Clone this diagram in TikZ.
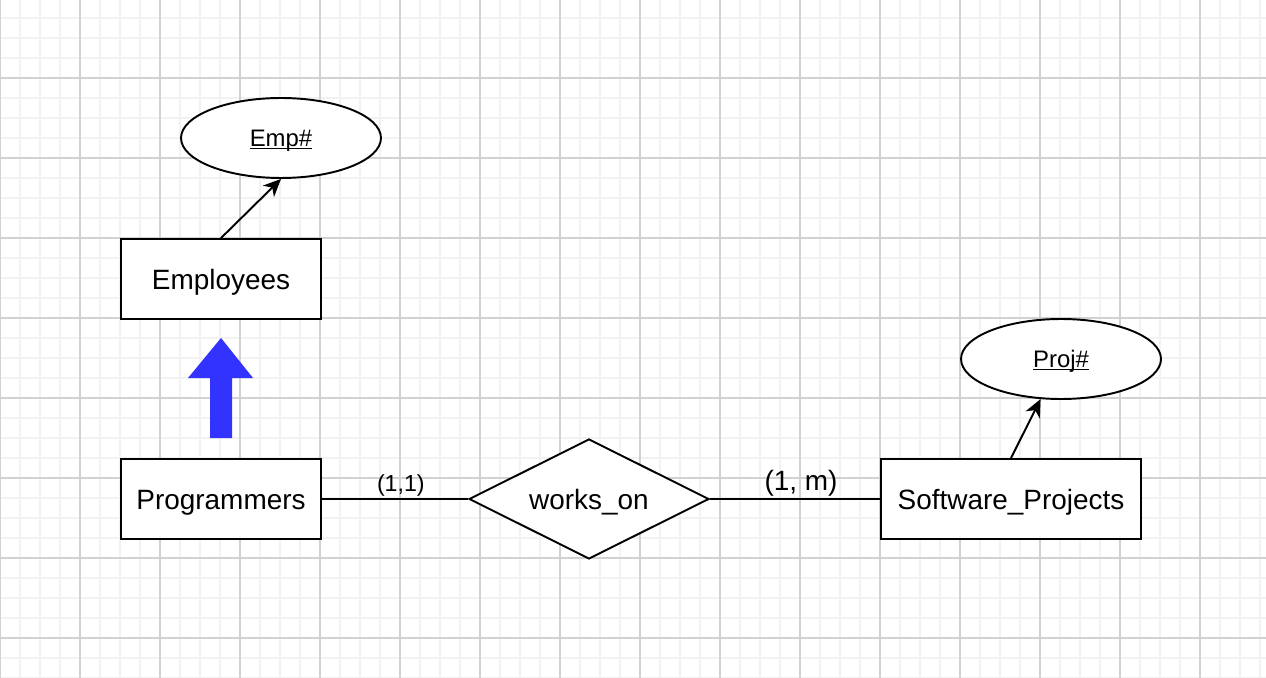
\documentclass[tikz,border=0pt]{standalone}
\usepackage{fontspec}
\setmainfont{Liberation Sans}
\usepackage{xcolor}
\usetikzlibrary{shapes.geometric, arrows.meta, positioning}
\definecolor{isablue}{RGB}{51,51,255}
\newcommand{\keyul}[1]{\setbox0\hbox{#1}\rlap{\rule[-1.6pt]{\wd0}{0.9pt}}\box0}

\begin{document}
\begin{tikzpicture}[x=0.02cm, y=-0.02cm,
    entity/.style={draw, line width=1.1pt, fill=white, minimum width=4cm, minimum height=1.6cm, inner sep=0pt, text height=11.4pt, text depth=0pt, font=\fontsize{15.9}{18}\selectfont},
    keyattr/.style={draw, ellipse, line width=1.1pt, fill=white, minimum width=4cm, minimum height=1.6cm, inner sep=0pt, text height=9.7pt, text depth=0pt, font=\fontsize{13.6}{16}\selectfont},
    relship/.style={draw, diamond, shape aspect=2, line width=1.1pt, fill=white, minimum width=4.8cm, minimum height=2.4cm, inner sep=0pt, text height=11.4pt, text depth=0pt, font=\fontsize{15.9}{18}\selectfont},
    link/.style={line width=1.1pt},
    attrlink/.style={line width=1.1pt, -{Stealth[length=10pt, width=9pt, inset=3pt]}}]
\useasboundingbox (0,0) rectangle (1266,678);
\fill[white] (0,0) rectangle (1266,678);

% grid
\foreach \x in {0,20,...,1260} \draw[black!5, line width=1.1pt] (\x,0) -- (\x,678);
\foreach \y in {-2,18,...,678} \draw[black!5, line width=1.1pt] (0,\y) -- (1266,\y);
\foreach \x in {0,80,...,1260} \draw[black!18, line width=0.6pt] (\x,0) -- (\x,678);
\foreach \y in {-2,78,...,678} \draw[black!18, line width=0.6pt] (0,\y) -- (1266,\y);

% entities and attributes
\node[entity] (emp) at (221,279) {Employees};
\node[keyattr] (empkey) at (281,138) {\keyul{Emp\#}};
\node[entity] (prog) at (221,499) {Programmers};
\node[relship] (works) at (589,499) {works\_on};
\node[entity, minimum width=5.2cm] (swp) at (1011,499) {Software\_Projects};
\node[keyattr] (projkey) at (1061,359) {\keyul{Proj\#}};

\draw[attrlink] (emp.north) -- (empkey.south);
\draw[attrlink] (swp.north) -- (projkey.243);

% ISA arrow
\fill[isablue] (210,438) -- (232,438) -- (232,378) -- (253,378) -- (221,338)
  -- (188,378) -- (210,378) -- cycle;

\draw[link] (prog.east) -- node[pos=0.54, above, inner sep=1pt, font=\fontsize{13.2}{16}\selectfont] (card1) {(1,1)} (works.west);
\draw[link] (works.east) -- node[pos=0.535, above, inner sep=1pt, font=\fontsize{15.9}{18}\selectfont] (card2) {(1, m)} (swp.west);
\end{tikzpicture}
\end{document}
